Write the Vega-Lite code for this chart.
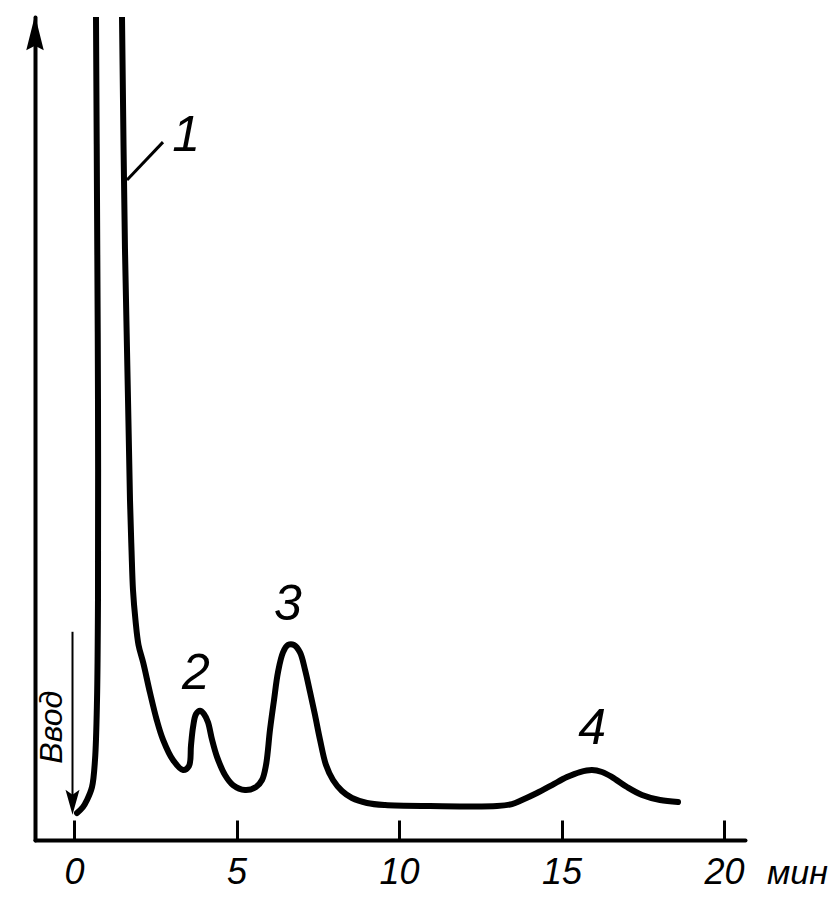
{
  "$schema": "https://vega.github.io/schema/vega-lite/v6.json",
  "width": 710,
  "height": 823,
  "autosize": {"type": "none"},
  "padding": {"left": 35, "top": 17, "right": 95, "bottom": 66},
  "background": "white",
  "config": {"view": {"stroke": null}},
  "datasets": {
    "curve": [
      {"i": 1, "t": 0.092, "v": 3.28},
      {"i": 2, "t": 0.277, "v": 4.01},
      {"i": 3, "t": 0.4, "v": 4.86},
      {"i": 4, "t": 0.554, "v": 6.44},
      {"i": 5, "t": 0.646, "v": 9.72},
      {"i": 6, "t": 0.708, "v": 17.0},
      {"i": 7, "t": 0.738, "v": 29.2},
      {"i": 8, "t": 0.738, "v": 53.5},
      {"i": 9, "t": 0.708, "v": 77.8},
      {"i": 10, "t": 0.677, "v": 100},
      {"i": 11, "t": 0.66, "v": 110},
      {"i": 12, "t": 1.05, "v": 140},
      {"i": 13, "t": 1.45, "v": 110},
      {"i": 14, "t": 1.477, "v": 100},
      {"i": 15, "t": 1.569, "v": 71.7},
      {"i": 16, "t": 1.662, "v": 53.5},
      {"i": 17, "t": 1.723, "v": 41.3},
      {"i": 18, "t": 1.77, "v": 35.2},
      {"i": 19, "t": 1.815, "v": 30.4},
      {"i": 20, "t": 1.892, "v": 26.7},
      {"i": 21, "t": 1.985, "v": 23.7},
      {"i": 22, "t": 2.132, "v": 21.5},
      {"i": 23, "t": 2.338, "v": 17.9},
      {"i": 24, "t": 2.545, "v": 14.6},
      {"i": 25, "t": 2.738, "v": 12.2},
      {"i": 26, "t": 3.046, "v": 9.72},
      {"i": 27, "t": 3.354, "v": 8.51},
      {"i": 28, "t": 3.538, "v": 9.0},
      {"i": 29, "t": 3.6, "v": 11.5},
      {"i": 30, "t": 3.662, "v": 13.7},
      {"i": 31, "t": 3.754, "v": 15.3},
      {"i": 32, "t": 3.877, "v": 15.7},
      {"i": 33, "t": 4.0, "v": 15.3},
      {"i": 34, "t": 4.123, "v": 14.3},
      {"i": 35, "t": 4.246, "v": 12.2},
      {"i": 36, "t": 4.4, "v": 10.1},
      {"i": 37, "t": 4.646, "v": 7.9},
      {"i": 38, "t": 4.892, "v": 6.68},
      {"i": 39, "t": 5.262, "v": 6.08},
      {"i": 40, "t": 5.6, "v": 6.44},
      {"i": 41, "t": 5.785, "v": 7.29},
      {"i": 42, "t": 5.908, "v": 9.11},
      {"i": 43, "t": 6.031, "v": 13.4},
      {"i": 44, "t": 6.154, "v": 17.0},
      {"i": 45, "t": 6.277, "v": 20.4},
      {"i": 46, "t": 6.431, "v": 22.8},
      {"i": 47, "t": 6.585, "v": 23.7},
      {"i": 48, "t": 6.769, "v": 23.7},
      {"i": 49, "t": 6.954, "v": 22.8},
      {"i": 50, "t": 7.108, "v": 20.7},
      {"i": 51, "t": 7.262, "v": 18.0},
      {"i": 52, "t": 7.415, "v": 15.2},
      {"i": 53, "t": 7.569, "v": 12.2},
      {"i": 54, "t": 7.754, "v": 9.11},
      {"i": 55, "t": 7.969, "v": 7.29},
      {"i": 56, "t": 8.246, "v": 5.95},
      {"i": 57, "t": 8.554, "v": 5.1},
      {"i": 58, "t": 9.015, "v": 4.5},
      {"i": 59, "t": 9.569, "v": 4.25},
      {"i": 60, "t": 10.954, "v": 4.13},
      {"i": 61, "t": 13.015, "v": 4.13},
      {"i": 62, "t": 13.477, "v": 4.37},
      {"i": 63, "t": 13.785, "v": 4.86},
      {"i": 64, "t": 14.246, "v": 5.71},
      {"i": 65, "t": 14.708, "v": 6.68},
      {"i": 66, "t": 15.169, "v": 7.65},
      {"i": 67, "t": 15.569, "v": 8.26},
      {"i": 68, "t": 15.938, "v": 8.51},
      {"i": 69, "t": 16.246, "v": 8.26},
      {"i": 70, "t": 16.554, "v": 7.65},
      {"i": 71, "t": 17.015, "v": 6.44},
      {"i": 72, "t": 17.477, "v": 5.47},
      {"i": 73, "t": 18.031, "v": 4.86},
      {"i": 74, "t": 18.585, "v": 4.62}
    ],
    "peaks": [
      {"label": "1", "t": 3.45, "v": 85.5},
      {"label": "2", "t": 3.754, "v": 20.2},
      {"label": "3", "t": 6.585, "v": 28.6},
      {"label": "4", "t": 15.94, "v": 13.5}
    ]
  },
  "layer": [
    {
      "data": {"name": "curve"},
      "mark": {"type": "line", "color": "black", "strokeWidth": 6, "strokeCap": "round", "strokeJoin": "round", "clip": true, "interpolate": "catmull-rom"},
      "encoding": {
        "x": {
          "field": "t", "type": "quantitative",
          "scale": {"domain": [-1.2, 20.646], "nice": false, "zero": false},
          "axis": {
            "orient": "bottom",
            "values": [0, 5, 10, 15, 20],
            "grid": false,
            "domainColor": "black", "domainWidth": 4, "domainCap": "round",
            "tickColor": "black", "tickWidth": 3, "tickSize": -20,
            "labelFont": "Liberation Sans Narrow, Liberation Sans",
            "labelFontStyle": "italic", "labelFontSize": 36, "labelColor": "black",
            "labelPadding": 35, "labelBaseline": "top",
            "title": "мин",
            "titleFont": "Liberation Sans Narrow, Liberation Sans",
            "titleFontStyle": "italic", "titleFontWeight": "normal", "titleFontSize": 34,
            "titleColor": "black",
            "titleAnchor": "start", "titleAlign": "center", "titleBaseline": "middle",
            "titleX": 762, "titleY": 33
          }
        },
        "y": {
          "field": "v", "type": "quantitative",
          "scale": {"domain": [0, 100], "nice": false, "zero": false},
          "axis": {
            "orient": "left", "grid": false, "ticks": false, "labels": false, "title": null,
            "domainColor": "black", "domainWidth": 4, "domainCap": "round"
          }
        },
        "order": {"field": "i", "type": "quantitative"}
      }
    },
    {
      "data": {"values": [{"t": -1.2, "v": 98.1}]},
      "mark": {"type": "point", "shape": "M0,-1L0.5,1L0,0.75L-0.5,1Z", "filled": true, "color": "black", "size": 1225, "opacity": 1},
      "encoding": {
        "x": {"field": "t", "type": "quantitative"},
        "y": {"field": "v", "type": "quantitative"}
      }
    },
    {
      "data": {"values": [{"t": -0.046, "v": 25.3, "v2": 4.5}]},
      "mark": {"type": "rule", "color": "black", "strokeWidth": 2},
      "encoding": {
        "x": {"field": "t", "type": "quantitative"},
        "y": {"field": "v", "type": "quantitative"},
        "y2": {"field": "v2"}
      }
    },
    {
      "data": {"values": [{"t": -0.046, "v": 4.6}]},
      "mark": {"type": "point", "shape": "M-0.56,-1L0,1L0.56,-1L0,-0.6Z", "filled": true, "color": "black", "size": 625, "opacity": 1},
      "encoding": {
        "x": {"field": "t", "type": "quantitative"},
        "y": {"field": "v", "type": "quantitative"}
      }
    },
    {
      "data": {"values": [{"t": 1.631, "v": 80.2, "t2": 2.738, "v2": 84.8}]},
      "mark": {"type": "rule", "color": "black", "strokeWidth": 3},
      "encoding": {
        "x": {"field": "t", "type": "quantitative"},
        "x2": {"field": "t2"},
        "y": {"field": "v", "type": "quantitative"},
        "y2": {"field": "v2"}
      }
    },
    {
      "data": {"name": "peaks"},
      "mark": {"type": "text", "font": "Liberation Sans Narrow, Liberation Sans", "fontStyle": "italic", "fontSize": 50, "color": "black", "align": "center", "baseline": "middle"},
      "encoding": {
        "x": {"field": "t", "type": "quantitative"},
        "y": {"field": "v", "type": "quantitative"},
        "text": {"field": "label"}
      }
    },
    {
      "data": {"values": [{"label": "Ввод", "t": -0.677, "v": 13.7}]},
      "mark": {"type": "text", "font": "Liberation Sans Narrow, Liberation Sans", "fontStyle": "italic", "fontSize": 32, "color": "black", "align": "center", "baseline": "middle", "angle": 270},
      "encoding": {
        "x": {"field": "t", "type": "quantitative"},
        "y": {"field": "v", "type": "quantitative"},
        "text": {"field": "label"}
      }
    }
  ]
}
